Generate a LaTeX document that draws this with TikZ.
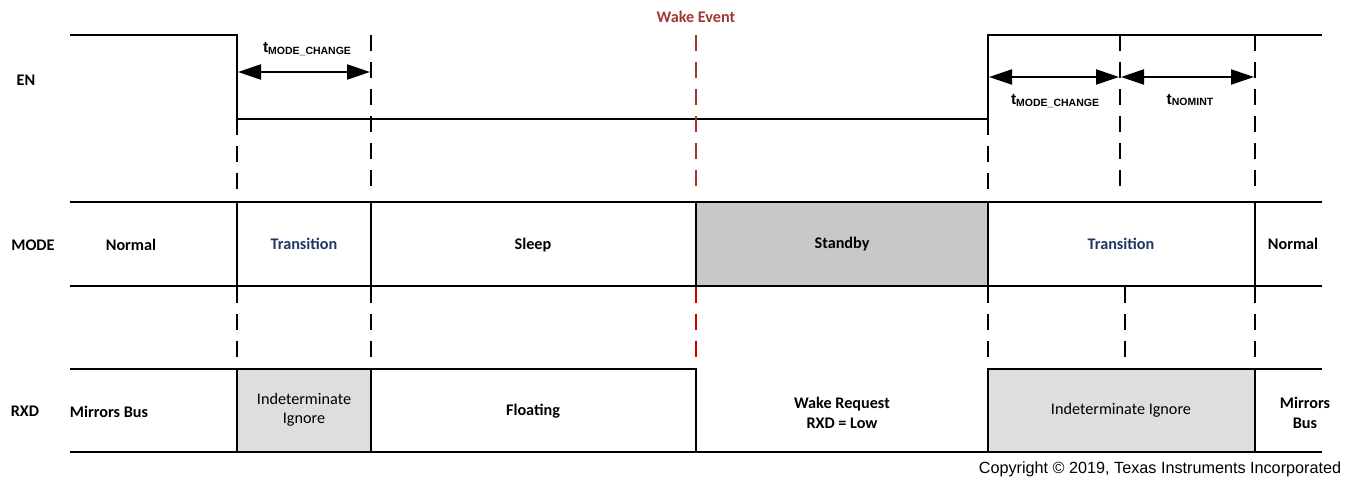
\documentclass[tikz,border=0pt]{standalone}
\usepackage{fontspec}
\setmainfont{Carlito}
\newfontfamily\arialf{Liberation Sans}
\usetikzlibrary{arrows.meta}
\definecolor{tiblue}{RGB}{31,56,100}
\definecolor{wakered}{RGB}{160,55,50}
\definecolor{brightred}{RGB}{200,0,0}
\definecolor{lightfill}{RGB}{222,222,222}
\definecolor{midfill}{RGB}{200,200,200}
\begin{document}
\begin{tikzpicture}[x=1pt,y=-1pt,
  wave/.style={line width=2.2pt, line join=miter},
  tick/.style={line width=2.2pt, dash pattern=on 16pt off 11pt},
  lbl/.style={font=\fontsize{16.2}{19.5}\selectfont\bfseries, align=center, inner sep=0},
  reg/.style={font=\fontsize{16.2}{19.5}\selectfont, align=center, inner sep=0},
  blu/.style={lbl, text=tiblue},
  tlab/.style={inner sep=0},
  dimarrow/.style={line width=2.2pt, {Triangle[length=23pt,width=15pt]}-{Triangle[length=23pt,width=15pt]}}
]
\useasboundingbox (0,0) rectangle (1358,478);
% fills
\fill[lightfill] (237,369) rectangle (371,452);
\fill[midfill] (696,202) rectangle (988,286);
\fill[lightfill] (988,369) rectangle (1255,452);
% EN waveform
\draw[wave] (70,35) -- (237,35) -- (237,119) -- (988,119) -- (988,35) -- (1322,35);
% MODE row
\draw[wave] (70,202) -- (1322,202);
\draw[wave] (70,286) -- (1322,286);
\foreach \x in {237,371,696,988,1255} \draw[wave] (\x,202) -- (\x,286);
% RXD row
\draw[wave] (70,369) -- (696,369) -- (696,452);
\draw[wave] (988,452) -- (988,369) -- (1322,369);
\draw[wave] (70,452) -- (1322,452);
\foreach \x in {237,371,1255} \draw[wave] (\x,369) -- (\x,452);
% dashed markers, upper
\draw[tick] (237,119) -- (237,192);
\draw[tick] (371,35) -- (371,192);
\draw[tick, wakered] (696,35) -- (696,192);
\draw[tick] (988,119) -- (988,192);
\draw[tick] (1120,35) -- (1120,192);
\draw[tick] (1255,35) -- (1255,192);
% dashed markers, lower
\draw[tick] (237,287) -- (237,358);
\draw[tick] (371,287) -- (371,358);
\draw[tick, brightred] (696,287) -- (696,358);
\draw[tick] (988,287) -- (988,358);
\draw[tick] (1125,287) -- (1125,358);
\draw[tick] (1255,287) -- (1255,358);
% dimension arrows
\coordinate (a1) at (238,72);
\coordinate (a2) at (370,72);
\coordinate (b1) at (989,77);
\coordinate (b2) at (1119,77);
\coordinate (c1) at (1121,77);
\coordinate (c2) at (1254,77);
\draw[dimarrow] (a1) -- (a2);
\draw[dimarrow] (b1) -- (b2);
\draw[dimarrow] (c1) -- (c2);
\node[tlab] (t1) at (307,49) {\arialf\bfseries{\fontsize{15.5}{16}\selectfont t}\raisebox{-1.5pt}{\fontsize{10.5}{11}\selectfont MODE\_CHANGE}};
\node[tlab] (t2) at (1055,101) {\arialf\bfseries{\fontsize{15.5}{16}\selectfont t}\raisebox{-1.5pt}{\fontsize{10.5}{11}\selectfont MODE\_CHANGE}};
\node[tlab] (t3) at (1190,100) {\arialf\bfseries{\fontsize{15.5}{16}\selectfont t}\raisebox{-1.5pt}{\fontsize{10.5}{11}\selectfont NOMINT}};
% labels
\node[lbl, text=wakered] (wake) at (696,17) {Wake Event};
\node[lbl] (en) at (26,80) {EN};
\node[lbl] (mode) at (33,245) {MODE};
\node[lbl] (rxd) at (25,411) {RXD};
\node[lbl] (m1) at (131,245) {Normal};
\node[blu] (m2) at (304,244) {Transition};
\node[lbl] (m3) at (533,245) {Sleep};
\node[lbl] (m4) at (842,244) {Standby};
\node[blu] (m5) at (1121,244) {Transition};
\node[lbl] (m6) at (1293,244) {Normal};
\node[lbl] (r1) at (109,412) {Mirrors Bus};
\node[reg] (r2) at (304,410) {Indeterminate\\Ignore};
\node[lbl] (r3) at (533,411) {Floating};
\node[lbl] (r4) at (842,413) {Wake Request\\RXD = Low};
\node[reg] (r5) at (1121,410) {Indeterminate Ignore};
\node[lbl] (r6) at (1305,413) {Mirrors\\Bus};
\node[inner sep=0, font=\arialf\fontsize{16.2}{18}\selectfont] (copy) at (1160,469) {Copyright \textcopyright{} 2019, Texas Instruments Incorporated};
\end{tikzpicture}
\end{document}
